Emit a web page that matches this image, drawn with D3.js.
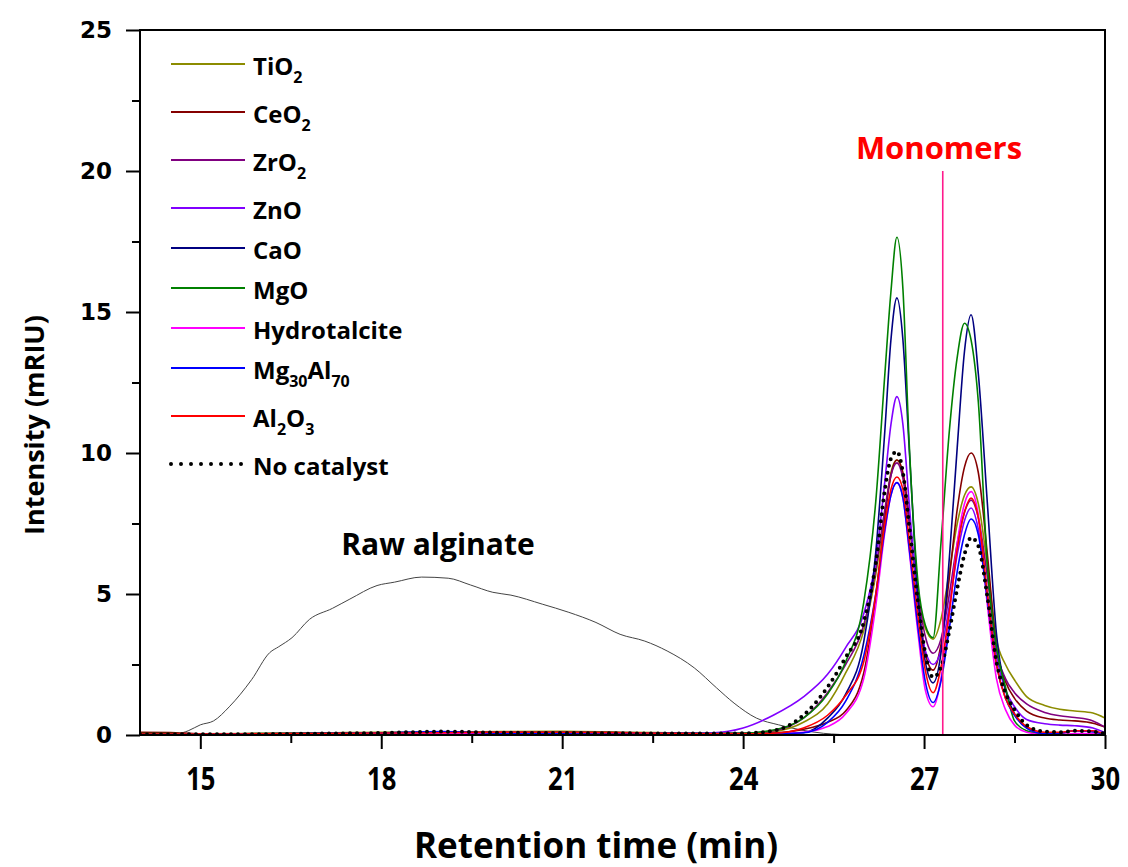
<!DOCTYPE html>
<html>
<head>
<meta charset="utf-8">
<script src="https://cdn.jsdelivr.net/npm/d3@7"></script>
<style>
  body { margin: 0; background: #fff; }
</style>
</head>
<body>
<svg id="chart" width="1128" height="867"></svg>
<script>
// retention time grid (min) shared by the catalyst runs
const time = [14, 14.5, 15, 16, 17, 18, 19, 20, 21, 22, 23, 23.5, 24, 24.5, 25, 25.4, 25.7, 26.0, 26.2, 26.35,
  26.45, 26.55, 26.65, 26.75, 26.9, 27.02, 27.15, 27.28, 27.42, 27.55, 27.67, 27.78, 27.9, 28.05, 28.2, 28.35,
  28.5, 28.7, 29.0, 29.25, 29.5, 29.8, 30];

const tio2 = [0.06,0.05,0.04,0.05,0.07,0.10,0.10,0.12,0.13,0.10, 0.07,0.06,0.06,0.12,0.45,1.1,2.2,3.7,5.7,7.9,
  9.3,9.75,9.2,7.6,5.0,3.8,3.4,4.1,5.8,7.5, 8.5,8.8,8.2,6.0,3.4,2.5,1.95,1.36,1.05,0.91, 0.85,0.78,0.6];
const ceo2 = [0.10,0.09,0.04,0.05,0.06,0.08,0.08,0.09,0.10,0.08, 0.06,0.05,0.05,0.07,0.2,0.45,0.85,2.2,4.9,7.7,
  9.2,9.75,9.3,7.8,4.8,2.9,2.3,3.2,5.6,8.0, 9.5,10.0,9.3,6.4,3.1,1.9,1.3,0.85,0.6,0.53, 0.5,0.42,0.28];
const zro2 = [0.04,0.04,0.03,0.04,0.06,0.08,0.09,0.10,0.10,0.09, 0.06,0.05,0.06,0.15,0.6,1.5,2.5,3.9,5.9,8.0,
  9.2,9.65,9.1,7.6,5.0,3.5,2.9,3.4,5.0,6.8, 7.9,8.33,7.7,5.6,3.0,2.0,1.5,1.1,0.8,0.68, 0.62,0.5,0.28];
const zno = [0.04,0.04,0.03,0.04,0.05,0.06,0.07,0.07,0.08,0.07, 0.06,0.08,0.25,0.7,1.35,2.15,3.1,4.3,6.2,9.0,
  11.0,12.0,11.0,8.3,4.6,3.0,2.5,3.0,4.6,6.4, 7.6,8.05,7.3,5.0,2.8,1.6,1.0,0.55,0.4,0.35, 0.33,0.25,0.08];
const cao = [0.03,0.03,0.03,0.04,0.05,0.07,0.08,0.07,0.08,0.07, 0.05,0.04,0.04,0.05,0.08,0.6,1.45,3.3,6.5,10.8,
  14.0,15.5,14.0,10.3,4.9,2.6,1.85,2.9,6.3,10.2, 13.6,14.9,12.8,8.2,3.6,1.6,0.75,0.25,0.03,0.05, 0.15,0.12,0.02];
const mgo = [0.05,0.05,0.04,0.05,0.06,0.08,0.10,0.08,0.10,0.08, 0.05,0.05,0.06,0.18,0.6,1.45,2.6,4.7,8.3,12.8,
  15.7,17.65,15.8,10.5,5.4,3.9,3.45,6.8,10.8,13.4, 14.6,14.0,11.8,6.0,3.1,1.7,0.5,0.15,0.02,0.02, 0.02,0.02,0.02];
const hydrotalcite = [0.02,0.02,0.02,0.03,0.04,0.05,0.06,0.06,0.06,0.05, 0.04,0.03,0.03,0.04,0.1,0.3,0.75,2.0,4.6,7.2,
  8.5,8.95,8.4,6.6,3.6,1.6,1.0,2.0,4.3,6.8, 8.2,8.63,7.8,4.6,2.0,0.9,0.35,0.1,0.02,0.02, 0.05,0.05,0.02];
const mg30al70 = [0.02,0.02,0.02,0.03,0.05,0.07,0.12,0.06,0.06,0.05, 0.04,0.03,0.03,0.04,0.08,0.45,1.2,2.8,5.0,7.3,
  8.5,8.95,8.4,6.7,3.8,1.9,1.15,1.9,3.8,5.8, 7.1,7.66,7.1,4.8,2.5,1.3,0.7,0.25,0.05,0.07, 0.15,0.12,0.0];
const al2o3 = [0.03,0.03,0.03,0.04,0.05,0.07,0.08,0.10,0.10,0.08, 0.05,0.04,0.04,0.06,0.25,0.7,1.4,2.6,5.0,7.5,
  8.7,9.15,8.7,7.0,4.2,2.3,1.5,2.4,4.4,6.6, 7.9,8.4,7.7,5.0,2.5,1.3,0.75,0.3,0.1,0.1, 0.15,0.15,0.02];
const noCatalyst = [0.02,0.02,0.03,0.03,0.05,0.07,0.12,0.08,0.07,0.06, 0.05,0.05,0.06,0.15,0.7,1.7,2.75,4.0,6.1,8.7,
  9.8,10.05,9.3,7.5,4.7,2.9,2.05,2.4,3.7,5.2, 6.4,7.0,6.7,4.9,2.6,1.5,0.9,0.35,0.12,0.1, 0.15,0.12,0.05];

// raw alginate trace
const rawTime = [14.4, 14.6, 14.8, 15.0, 15.22, 15.48, 15.85, 16.15, 16.3, 16.52, 16.81, 17.19, 17.48, 17.93, 18.22,
  18.67, 19.11, 19.48, 19.85, 20.15, 20.67, 21.11, 21.56, 21.96, 22.37, 22.74, 23.19, 23.56, 23.85, 24.22, 24.59,
  24.96, 25.33, 25.6];
const rawValue = [0, 0.03, 0.15, 0.36, 0.5, 1.0, 1.96, 2.92, 3.13, 3.45, 4.1, 4.49, 4.82, 5.3, 5.42,
  5.6, 5.56, 5.32, 5.06, 4.96, 4.64, 4.35, 3.99, 3.57, 3.33, 2.98, 2.38, 1.67, 1.13, 0.6, 0.36,
  0.18, 0.06, 0.02];

const xTicks = [15, 18, 21, 24, 27, 30];
const xMinor = [16.5, 19.5, 22.5, 25.5, 28.5];
const yTicks = [0, 5, 10, 15, 20, 25];
const yMinor = [2.5, 7.5, 12.5, 17.5, 22.5];
const monomerTime = 27.31;

const series = [
  { name: "TiO_2", values: tio2, color: "#8c8c00" },
  { name: "CeO_2", values: ceo2, color: "#850000" },
  { name: "ZrO_2", values: zro2, color: "#800080" },
  { name: "ZnO", values: zno, color: "#8000ff" },
  { name: "CaO", values: cao, color: "#000080" },
  { name: "MgO", values: mgo, color: "#008000" },
  { name: "Hydrotalcite", values: hydrotalcite, color: "#ff00ff" },
  { name: "Mg_30Al_70", values: mg30al70, color: "#0000ff" },
  { name: "Al_2O_3", values: al2o3, color: "#ff0000" },
  { name: "No catalyst", values: noCatalyst, color: "#000", dotted: true }
];

const margin = { left: 140, right: 1105, top: 30, bottom: 735 };
const svg = d3.select('#chart');
const sans = "'Open Sans', sans-serif";

const x = d3.scaleLinear().domain([14, 30]).range([margin.left, margin.right]);
const y = d3.scaleLinear().domain([0, 25]).range([margin.bottom, margin.top]);

svg.append("defs").append("clipPath").attr("id", "plot")
  .append("rect")
  .attr("x", margin.left).attr("y", margin.top)
  .attr("width", margin.right - margin.left).attr("height", margin.bottom - margin.top);

const line = d3.line()
  .x(d => x(d[0]))
  .y(d => y(d[1]))
  .curve(d3.curveMonotoneX);

const plot = svg.append("g").attr("clip-path", "url(#plot)");

// raw alginate
plot.append("path")
  .attr("d", line(rawTime.map((t, i) => [t, rawValue[i]])))
  .attr("fill", "none")
  .attr("stroke", "#444")
  .attr("stroke-width", 1);

// catalyst runs
plot.selectAll("path.run")
  .data(series)
  .enter().append("path")
  .attr("class", "run")
  .attr("d", d => line(time.map((t, i) => [t, d.values[i]])))
  .attr("fill", "none")
  .attr("stroke", d => d.color)
  .attr("stroke-width", d => d.dotted ? 4 : 1.6)
  .attr("stroke-linecap", d => d.dotted ? "round" : "butt")
  .attr("stroke-dasharray", d => d.dotted ? "0 7" : null);

// monomer marker
svg.append("line")
  .attr("x1", x(monomerTime)).attr("x2", x(monomerTime))
  .attr("y1", y(0)).attr("y2", y(20))
  .attr("stroke", "#ff1a8c").attr("stroke-width", 1.6);

svg.append("text")
  .attr("x", 939).attr("y", 159)
  .attr("text-anchor", "middle")
  .attr("font-family", sans).attr("font-weight", "bold")
  .attr("font-size", 31).attr("fill", "#ff0000")
  .text("Monomers");

svg.append("text")
  .attr("x", 438).attr("y", 555)
  .attr("text-anchor", "middle")
  .attr("font-family", sans).attr("font-weight", "bold")
  .attr("font-size", 30).attr("fill", "#000")
  .text("Raw alginate");

// frame
svg.append("rect")
  .attr("x", margin.left).attr("y", margin.top)
  .attr("width", margin.right - margin.left).attr("height", margin.bottom - margin.top)
  .attr("fill", "none").attr("stroke", "#000").attr("stroke-width", 2);

// axes
const xAxis = svg.append("g")
  .attr("transform", `translate(0,${margin.bottom})`)
  .call(d3.axisBottom(x).tickValues(xTicks).tickSize(14).tickPadding(18));
svg.append("g")
  .attr("transform", `translate(0,${margin.bottom})`)
  .call(d3.axisBottom(x).tickValues(xMinor).tickSize(8).tickFormat(""));
const yAxis = svg.append("g")
  .attr("transform", `translate(${margin.left},0)`)
  .call(d3.axisLeft(y).tickValues(yTicks).tickSize(14).tickPadding(14));
svg.append("g")
  .attr("transform", `translate(${margin.left},0)`)
  .call(d3.axisLeft(y).tickValues(yMinor).tickSize(8).tickFormat(""));

svg.selectAll(".domain").remove();
svg.selectAll(".tick line").attr("stroke", "#000").attr("stroke-width", 2);

// condensed bold digits on the time axis
xAxis.selectAll("text")
  .attr("font-family", sans).attr("font-weight", "bold")
  .attr("font-size", 32).attr("fill", "#000")
  .attr("transform", "scale(0.8,1)");
yAxis.selectAll("text")
  .attr("font-family", "'DejaVu Sans', sans-serif").attr("font-weight", "bold")
  .attr("font-size", 23).attr("fill", "#000");

svg.append("text")
  .attr("x", 596).attr("y", 858)
  .attr("text-anchor", "middle")
  .attr("font-family", sans).attr("font-weight", "bold")
  .attr("font-size", 35).attr("fill", "#000")
  .text("Retention time (min)");

svg.append("text")
  .attr("transform", `translate(44,425) rotate(-90)`)
  .attr("text-anchor", "middle")
  .attr("font-family", sans).attr("font-weight", "bold")
  .attr("font-size", 27).attr("fill", "#000")
  .text("Intensity (mRIU)");

// legend
const legend = svg.append("g");
let rowY = 64;
series.forEach(s => {
  const parts = s.name.split(/_(\d+)/);
  const hasSub = parts.length > 1;
  legend.append("line")
    .attr("x1", 171).attr("x2", 245)
    .attr("y1", rowY).attr("y2", rowY)
    .attr("stroke", s.color)
    .attr("stroke-width", s.dotted ? 4 : 2)
    .attr("stroke-linecap", s.dotted ? "round" : "butt")
    .attr("stroke-dasharray", s.dotted ? "0 10" : null);
  const t = legend.append("text")
    .attr("x", 253).attr("y", rowY + 11)
    .attr("font-family", sans).attr("font-weight", "bold")
    .attr("font-size", 24).attr("fill", "#000");
  parts.forEach((p, i) => {
    if (!p) return;
    const sub = i % 2 === 1;
    t.append("tspan")
      .attr("font-size", sub ? 16 : 24)
      .attr("dy", sub ? 8 : (i > 0 ? -8 : 0))
      .text(p);
  });
  rowY += hasSub ? 48 : 40;
});
</script>
</body>
</html>
